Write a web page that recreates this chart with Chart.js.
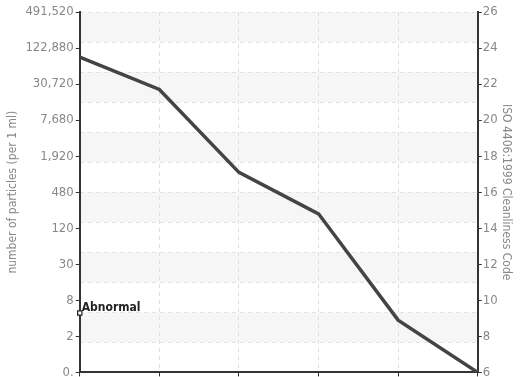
<!DOCTYPE html>
<html>
<head>
<meta charset="utf-8">
<script src="https://cdn.jsdelivr.net/npm/chart.js@4"></script>
<style>
  html, body { margin:0; padding:0; background:#fff; overflow:hidden; }
  #wrap { width:525px; height:398px; }
</style>
</head>
<body>
<div id="wrap"><canvas id="isoChart" width="525" height="398"></canvas></div>
<script>
// Data
const sizes = ['4','6','14','21','38','70'];
const isoCodes = [23.5, 21.7, 17.1, 14.8, 8.9, 6];
const abnormal = [9.3, null, null, null, null, null];
const codeTicks = [6,8,10,12,14,16,18,20,22,24,26];
const countLabels = ['0.','2','8','30','120','480','1,920','7,680','30,720','122,880','491,520'];

const FONT = "'DejaVu Sans', sans-serif";
// narrow look: font-stretch goes in through the weight slot of the font string
const tickFont = { family: FONT, size: 13, weight: 'condensed' };
const titleFont = { family: FONT, size: 12, weight: 'condensed' };

// alternating bands on the hidden grid axis + the Abnormal label
const bands = {
  id: 'bands',
  beforeDraw(chart){
    const s = chart.scales.yg, a = chart.chartArea, ctx = chart.ctx;
    ctx.save();
    ctx.fillStyle = '#f6f6f6';
    for(let v = 12; v > 0; v -= 2){
      const y1 = s.getPixelForValue(v), y2 = s.getPixelForValue(v-1);
      ctx.fillRect(a.left, y1, a.right-a.left, y2-y1);
    }
    ctx.restore();
  },
  afterDatasetsDraw(chart){
    const pt = chart.getDatasetMeta(1).data[0];
    if(!pt) return;
    const ctx = chart.ctx;
    ctx.save();
    ctx.font = "bold condensed 12px " + FONT;
    ctx.fillStyle = '#222';
    ctx.textBaseline = 'bottom';
    ctx.fillText('Abnormal', pt.x + 2, pt.y + 1);
    ctx.restore();
  }
};

new Chart(document.getElementById('isoChart'), {
  type: 'line',
  data: {
    labels: sizes,
    datasets: [{
      data: isoCodes,
      yAxisID: 'yR',
      borderColor: '#444',
      borderWidth: 3.5,
      pointRadius: 0,
      tension: 0
    },{
      data: abnormal,
      yAxisID: 'yR',
      showLine: false,
      pointStyle: 'rect',
      pointRadius: 3,
      pointBackgroundColor: '#fff',
      pointBorderColor: '#222',
      pointBorderWidth: 1.2
    }]
  },
  options: {
    responsive: false,
    animation: false,
    layout: { padding: { top: 12, left: 1, right: 8, bottom: 0 } },
    plugins: { legend: { display: false }, tooltip: { enabled: false } },
    scales: {
      x: {
        offset: false,
        grid: { color: '#e0e0e0', tickLength: 4, tickColor: '#333' },
        border: { color: '#333', width: 2, dash: [4,4] },
        ticks: { color: '#888', font: tickFont, maxRotation: 0 }
      },
      yL: {
        position: 'left',
        min: 6, max: 26,
        afterBuildTicks(s){ s.ticks = codeTicks.map(v => ({ value: v })); },
        grid: { drawOnChartArea: false, tickLength: 4, tickColor: '#333' },
        border: { color: '#333', width: 2 },
        ticks: {
          color: '#888',
          font: tickFont,
          padding: 2,
          callback: (v) => countLabels[codeTicks.indexOf(v)]
        },
        title: { display: true, text: 'number of particles (per 1 ml)', color: '#888', font: titleFont, padding: { top: 5, bottom: 3 } }
      },
      yR: {
        position: 'right',
        min: 6, max: 26,
        afterBuildTicks(s){ s.ticks = codeTicks.map(v => ({ value: v })); },
        grid: { drawOnChartArea: false, tickLength: 4, tickColor: '#333' },
        border: { color: '#333', width: 2 },
        ticks: { color: '#888', font: tickFont, padding: 1 },
        title: { display: true, text: 'ISO 4406:1999 Cleanliness Code', color: '#888', font: titleFont, padding: { top: 4, bottom: 0 } }
      },
      yg: {
        position: 'right',
        min: 0, max: 12,
        ticks: { display: false, stepSize: 1 },
        grid: { color: '#e0e0e0', drawTicks: false },
        border: { display: false, dash: [4,4] }
      }
    }
  },
  plugins: [bands]
});
</script>
</body>
</html>
